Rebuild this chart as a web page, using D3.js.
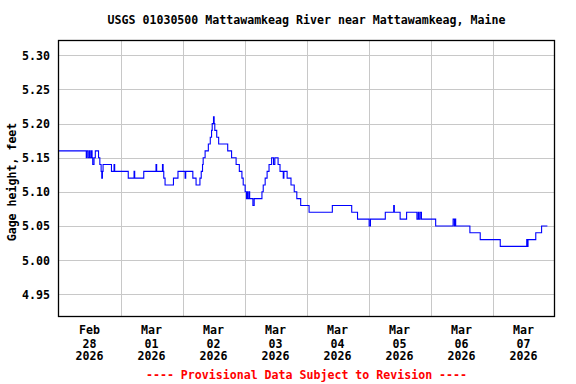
<!DOCTYPE html>
<html><head><meta charset="utf-8">
<script src="https://cdn.jsdelivr.net/npm/d3@7"></script>
<style>
html,body{margin:0;padding:0;background:#fff;}
svg{display:block;}
text{font-family:"DejaVu Sans Mono",monospace;font-weight:bold;}
</style></head>
<body>
<script>
const chartTitle = "USGS 01030500 Mattawamkeag River near Mattawamkeag, Maine";
const yAxisTitle = "Gage height, feet";
const footerText = "---- Provisional Data Subject to Revision ----";
const yTicks = [4.95, 5.00, 5.05, 5.10, 5.15, 5.20, 5.25, 5.30];
const dayTicks = ["2026-02-28","2026-03-01","2026-03-02","2026-03-03","2026-03-04","2026-03-05","2026-03-06","2026-03-07"];
const xDomain = ["2026-02-28 00:00","2026-03-08 00:00"];
const yDomain = [4.918, 5.3225];

// step change points (time, gage height in feet)
const obsTimes = [
"2026-02-28 00:00","2026-02-28 10:45","2026-02-28 11:00","2026-02-28 11:30","2026-02-28 12:00",
"2026-02-28 12:15","2026-02-28 12:45","2026-02-28 13:00","2026-02-28 13:15","2026-02-28 13:45",
"2026-02-28 14:15","2026-02-28 15:30","2026-02-28 16:00","2026-02-28 16:30","2026-02-28 16:45",
"2026-02-28 17:00","2026-02-28 17:15","2026-02-28 20:30","2026-02-28 21:30","2026-02-28 21:45",
"2026-03-01 03:00","2026-03-01 05:15","2026-03-01 05:30","2026-03-01 09:00","2026-03-01 13:45",
"2026-03-01 14:00","2026-03-01 16:15","2026-03-01 16:30","2026-03-01 16:45","2026-03-01 17:15",
"2026-03-01 20:30","2026-03-01 22:15","2026-03-02 01:00","2026-03-02 01:15","2026-03-02 04:00",
"2026-03-02 05:15","2026-03-02 06:45","2026-03-02 07:15","2026-03-02 07:45","2026-03-02 08:00",
"2026-03-02 08:45","2026-03-02 10:00","2026-03-02 10:45","2026-03-02 11:15","2026-03-02 11:30",
"2026-03-02 12:00","2026-03-02 12:15","2026-03-02 12:30","2026-03-02 13:15","2026-03-02 14:00",
"2026-03-02 17:30","2026-03-02 19:00","2026-03-02 20:45","2026-03-02 22:00","2026-03-02 23:00",
"2026-03-02 23:30","2026-03-03 00:15","2026-03-03 00:45","2026-03-03 01:00","2026-03-03 01:15",
"2026-03-03 01:45","2026-03-03 02:00","2026-03-03 03:15","2026-03-03 03:45","2026-03-03 06:45",
"2026-03-03 07:15","2026-03-03 08:00","2026-03-03 08:45","2026-03-03 09:30","2026-03-03 10:30",
"2026-03-03 11:15","2026-03-03 11:45","2026-03-03 13:00","2026-03-03 13:45","2026-03-03 15:00",
"2026-03-03 15:15","2026-03-03 16:30","2026-03-03 18:00","2026-03-03 19:15","2026-03-03 20:15",
"2026-03-03 21:45","2026-03-04 01:00","2026-03-04 10:00","2026-03-04 17:30","2026-03-04 19:45",
"2026-03-05 00:15","2026-03-05 00:45","2026-03-05 06:30","2026-03-05 09:45","2026-03-05 10:00",
"2026-03-05 12:15","2026-03-05 14:45","2026-03-05 18:45","2026-03-05 19:15","2026-03-05 19:30",
"2026-03-05 20:00","2026-03-05 20:30","2026-03-06 02:00","2026-03-06 08:45","2026-03-06 09:15",
"2026-03-06 09:30","2026-03-06 09:45","2026-03-06 15:15","2026-03-06 19:15","2026-03-07 03:00",
"2026-03-07 13:15","2026-03-07 13:30","2026-03-07 13:45","2026-03-07 16:45","2026-03-07 19:00",
"2026-03-07 21:15"
];
const gageHeight = [
5.16,5.15,5.16,5.15,5.16,
5.15,5.16,5.15,5.14,5.15,
5.16,5.15,5.14,5.13,5.12,
5.13,5.14,5.13,5.14,5.13,
5.12,5.13,5.12,5.13,5.14,
5.13,5.14,5.13,5.12,5.11,
5.12,5.13,5.12,5.13,5.12,
5.11,5.12,5.13,5.14,5.15,
5.16,5.17,5.18,5.19,5.20,
5.21,5.20,5.19,5.18,5.17,
5.16,5.15,5.14,5.13,5.12,
5.11,5.10,5.09,5.10,5.09,
5.10,5.09,5.08,5.09,5.10,
5.11,5.12,5.13,5.14,5.15,
5.14,5.15,5.14,5.13,5.12,
5.13,5.12,5.11,5.10,5.09,
5.08,5.07,5.08,5.07,5.06,
5.05,5.06,5.07,5.08,5.07,
5.06,5.07,5.06,5.07,5.06,
5.07,5.06,5.05,5.06,5.05,
5.06,5.05,5.04,5.03,5.02,
5.03,5.02,5.03,5.04,5.05,
5.05
];

const W = 576, H = 384;
const M = {left: 58.5, right: 554.5, top: 40, bottom: 316};
const FS = 11.6;
const parse = d3.timeParse("%Y-%m-%d %H:%M");
const parseDay = d3.timeParse("%Y-%m-%d");
const data = obsTimes.map((t, i) => ({t: parse(t), v: gageHeight[i]}));

const svg = d3.select("body").append("svg").attr("width", W).attr("height", H);

const x = d3.scaleTime().domain(xDomain.map(parse)).range([M.left, M.right]);
const y = d3.scaleLinear().domain(yDomain).range([M.bottom, M.top]);

// grid
const days = dayTicks.map(parseDay);
svg.append("g").selectAll("line").data(days.slice(1)).join("line")
  .attr("x1", d => Math.round(x(d)) + 0.5).attr("x2", d => Math.round(x(d)) + 0.5)
  .attr("y1", M.top).attr("y2", M.bottom)
  .attr("stroke", "#c8c8c8").attr("stroke-width", 1);
svg.append("g").selectAll("line").data(yTicks).join("line")
  .attr("x1", M.left).attr("x2", M.right)
  .attr("y1", d => Math.round(y(d)) + 0.5).attr("y2", d => Math.round(y(d)) + 0.5)
  .attr("stroke", "#c8c8c8").attr("stroke-width", 1);

// data line
const line = d3.line().x(d => x(d.t)).y(d => y(d.v)).curve(d3.curveStepAfter);
svg.append("path").datum(data).attr("d", line)
  .attr("fill", "none").attr("stroke", "#0000ff").attr("stroke-width", 1.1);

// frame
svg.append("rect").attr("x", M.left).attr("y", M.top + 0.5)
  .attr("width", M.right - M.left).attr("height", M.bottom - M.top)
  .attr("fill", "none").attr("stroke", "#000").attr("stroke-width", 1.3);

// y axis labels
svg.append("g").selectAll("text").data(yTicks).join("text")
  .attr("x", 50).attr("y", d => y(d) + 4.5)
  .attr("text-anchor", "end").attr("font-size", FS).attr("fill", "#000")
  .text(d => d3.format(".2f")(d));

svg.append("text")
  .attr("transform", "translate(15.5,182) rotate(-90)")
  .attr("text-anchor", "middle").attr("font-size", FS).attr("fill", "#000")
  .text(yAxisTitle);

// x axis labels (noon of each day)
const fmtMon = d3.timeFormat("%b"), fmtDay = d3.timeFormat("%d"), fmtYr = d3.timeFormat("%Y");
const xl = svg.append("g").selectAll("g").data(days).join("g")
  .attr("transform", d => `translate(${x(d3.timeHour.offset(d, 12))},0)`);
[[fmtMon, 334], [fmtDay, 347.5], [fmtYr, 360]].forEach(([f, yy]) => {
  xl.append("text").attr("y", yy).attr("text-anchor", "middle")
    .attr("font-size", FS).attr("fill", "#000").text(d => f(d));
});

// title
svg.append("text").attr("x", (M.left + M.right) / 2).attr("y", 24)
  .attr("text-anchor", "middle").attr("font-size", FS).attr("fill", "#000")
  .text(chartTitle);

// footer
svg.append("text").attr("x", (M.left + M.right) / 2).attr("y", 379)
  .attr("text-anchor", "middle").attr("font-size", FS).attr("fill", "#ff0000")
  .text(footerText);
</script>
</body></html>
